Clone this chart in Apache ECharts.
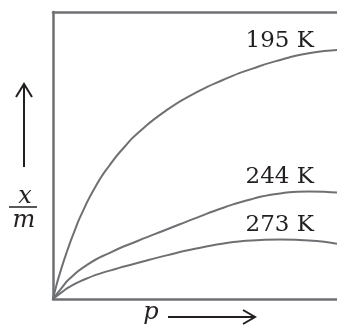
<!DOCTYPE html>
<html>
<head>
<meta charset="utf-8">
<script src="https://cdn.jsdelivr.net/npm/echarts@6/dist/echarts.min.js"></script>
<style>
    html, body {margin: 0; padding: 0; background: #fff;}
    #chart {width: 337px; height: 326px;}
</style>
</head>
<body>
<div id="chart"></div>
<script>
    // 压力 p (相对单位 0-100)
    var p195 = [0, 1, 2.5, 5, 7.5, 10, 15, 20, 25, 30, 40, 50, 60, 70, 80, 90, 100];
    var xm195 = [0, 4.0, 9.2, 16.8, 23.5, 29.5, 39.2, 46.7, 52.8, 57.9, 65.8, 71.7, 76.4, 80.2, 83.3, 85.6, 86.8];

    var pLow = [0, 3, 6, 12, 20, 30, 40, 50, 60, 70, 80, 90, 100];
    var xm244 = [0, 3.8, 7.2, 11.9, 16.1, 20.3, 24.2, 28.1, 31.8, 34.8, 36.8, 37.5, 37.1];
    var xm273 = [0, 2.3, 4.3, 7.2, 9.9, 12.6, 15.2, 17.5, 19.3, 20.4, 20.7, 20.4, 19.2];

    var curveNames = ['195 K', '244 K', '273 K'];

    var lineColor = '#6f7073';
    var inkColor = '#231f20';

    function zip(xs, ys) {
        var out = [];
        for (var i = 0; i < xs.length; i++) {
            out.push([xs[i], ys[i]]);
        }
        return out;
    }

    function curve(name, xs, ys) {
        return {
            name: name,
            type: 'line',
            data: zip(xs, ys),
            showSymbol: false,
            smooth: 0.6,
            lineStyle: {color: lineColor, width: 2},
            silent: true
        };
    }

    var axisStyle = {
        show: true,
        onZero: false,
        lineStyle: {color: lineColor, width: 2.5}
    };

    var labelFont = '23px "DejaVu Serif", serif';
    var italicFont = 'italic 24px "DejaVu Serif", serif';

    var chart = echarts.init(document.getElementById('chart'));
    chart.setOption({
        animation: false,
        grid: {left: 53, right: 0, top: 12, bottom: 27},
        xAxis: [
            {type: 'value', min: 0, max: 100, position: 'bottom', axisLine: axisStyle,
                axisTick: {show: false}, axisLabel: {show: false}, splitLine: {show: false}},
            {type: 'value', min: 0, max: 100, position: 'top', axisLine: axisStyle,
                axisTick: {show: false}, axisLabel: {show: false}, splitLine: {show: false}}
        ],
        yAxis: {
            type: 'value', min: 0, max: 100, axisLine: axisStyle,
            axisTick: {show: false}, axisLabel: {show: false}, splitLine: {show: false}
        },
        series: [
            curve(curveNames[0], p195, xm195),
            curve(curveNames[1], pLow, xm244),
            curve(curveNames[2], pLow, xm273)
        ],
        graphic: [
            // 温度标注
            {type: 'text', style: {text: curveNames[0], x: 314, y: 41, align: 'right', verticalAlign: 'middle', font: labelFont, fill: inkColor}},
            {type: 'text', style: {text: curveNames[1], x: 314, y: 177, align: 'right', verticalAlign: 'middle', font: labelFont, fill: inkColor}},
            {type: 'text', style: {text: curveNames[2], x: 314, y: 225, align: 'right', verticalAlign: 'middle', font: labelFont, fill: inkColor}},
            // 纵轴 x/m 和箭头
            {type: 'line', shape: {x1: 24, y1: 85, x2: 24, y2: 167}, style: {stroke: inkColor, lineWidth: 2}},
            {type: 'polyline', shape: {points: [[16, 97], [24, 84], [32, 97]]}, style: {stroke: inkColor, lineWidth: 2, fill: null}},
            {type: 'text', style: {text: 'x', x: 25, y: 197, align: 'center', verticalAlign: 'middle', font: italicFont, fill: inkColor}},
            {type: 'line', shape: {x1: 9, y1: 207, x2: 37, y2: 207}, style: {stroke: inkColor, lineWidth: 1.5}},
            {type: 'text', style: {text: 'm', x: 24, y: 221, align: 'center', verticalAlign: 'middle', font: italicFont, fill: inkColor}},
            // 横轴 p 和箭头
            {type: 'text', style: {text: 'p', x: 151, y: 313, align: 'center', verticalAlign: 'middle', font: italicFont, fill: inkColor}},
            {type: 'line', shape: {x1: 168, y1: 317, x2: 254, y2: 317}, style: {stroke: inkColor, lineWidth: 2}},
            {type: 'polyline', shape: {points: [[243, 310], [255, 317], [243, 324]]}, style: {stroke: inkColor, lineWidth: 2, fill: null}}
        ]
    });
</script>
</body>
</html>
